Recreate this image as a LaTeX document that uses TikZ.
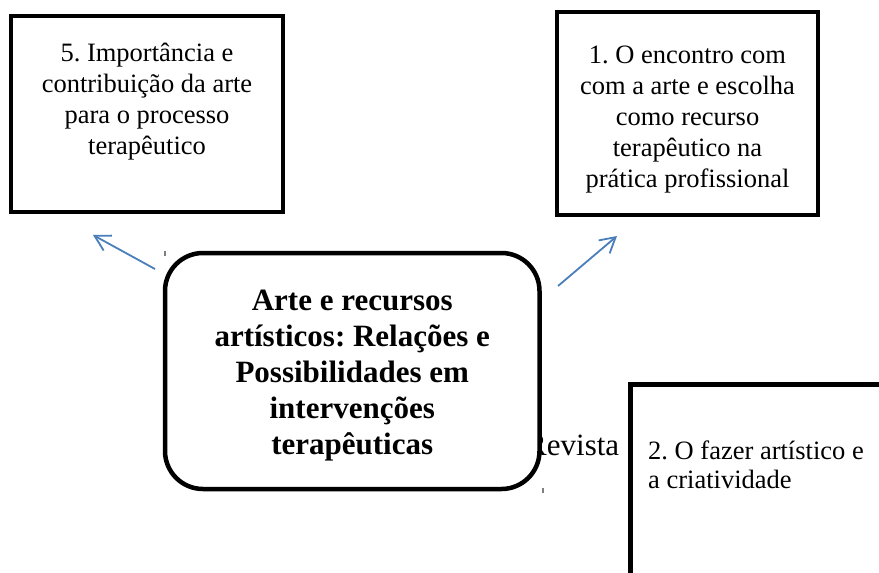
\documentclass[tikz,border=0pt]{standalone}
\usepackage{fontspec}
\setmainfont{Liberation Serif}
\usetikzlibrary{arrows.meta}
\definecolor{arrowblue}{HTML}{4A7EBB}
\frenchspacing
\begin{document}
\begin{tikzpicture}[x=1pt,y=-1pt,
  box/.style={draw=black, line width=4.5pt, fill=white, inner sep=0pt},
  boxtext/.style={font=\frenchspacing\fontsize{26.5}{31}\selectfont, text width=272pt, align=flush center, inner sep=0pt, anchor=base},
  conn/.style={draw=arrowblue, line width=1.8pt, -{Straight Barb[length=15pt,width=17pt]}},
  tickmark/.style={draw=gray, line width=1.2pt}]
\useasboundingbox (0,0) rectangle (879,573);
% boxes
\node[box, minimum width=272pt, minimum height=196pt] (b5) at (147,114) {};
\node[box, minimum width=261pt, minimum height=203pt] (b1) at (687.5,113.5) {};
\node[box, minimum width=272pt, minimum height=238pt, anchor=north west] (b2) at (628,382) {};
% texts in boxes
\node[boxtext] (t5) at (147,61) {5. Importância e\\contribuição da arte\\para o processo\\terapêutico};
\node[boxtext] (t1) at (687.5,63) {1. O encontro com\\com a arte e escolha\\como recurso\\terapêutico na\\prática profissional};
\node[font=\frenchspacing\fontsize{26.5}{29.5}\selectfont, text width=230pt, align=flush left, inner sep=0pt, anchor=base west] (t2) at (648,459) {2. O fazer artístico e\\a criatividade};
% stray text behind central box
\node[font=\fontsize{31}{36}\selectfont, inner sep=0pt, anchor=base west] (rev) at (526,455) {Revista};
% central box
\node[box, rounded corners=38pt, minimum width=374.5pt, minimum height=236pt] (c) at (352.25,371) {};
\node[font=\frenchspacing\bfseries\fontsize{31}{36}\selectfont, text width=370pt, align=flush center, inner sep=0pt, anchor=base] (ct) at (352.25,310) {Arte e recursos\\artísticos: Relações e\\Possibilidades em\\intervenções\\terapêuticas};
% arrows
\coordinate (a5s) at (155,269);
\coordinate (a5e) at (93,235);
\coordinate (a1s) at (558,286);
\coordinate (a1e) at (617,236);
\draw[conn] (a5s) -- (a5e);
\draw[conn] (a1s) -- (a1e);
% small tick marks
\draw[tickmark] (165,251) -- (165,256);
\draw[tickmark] (543,488) -- (543,493);
\end{tikzpicture}
\end{document}
